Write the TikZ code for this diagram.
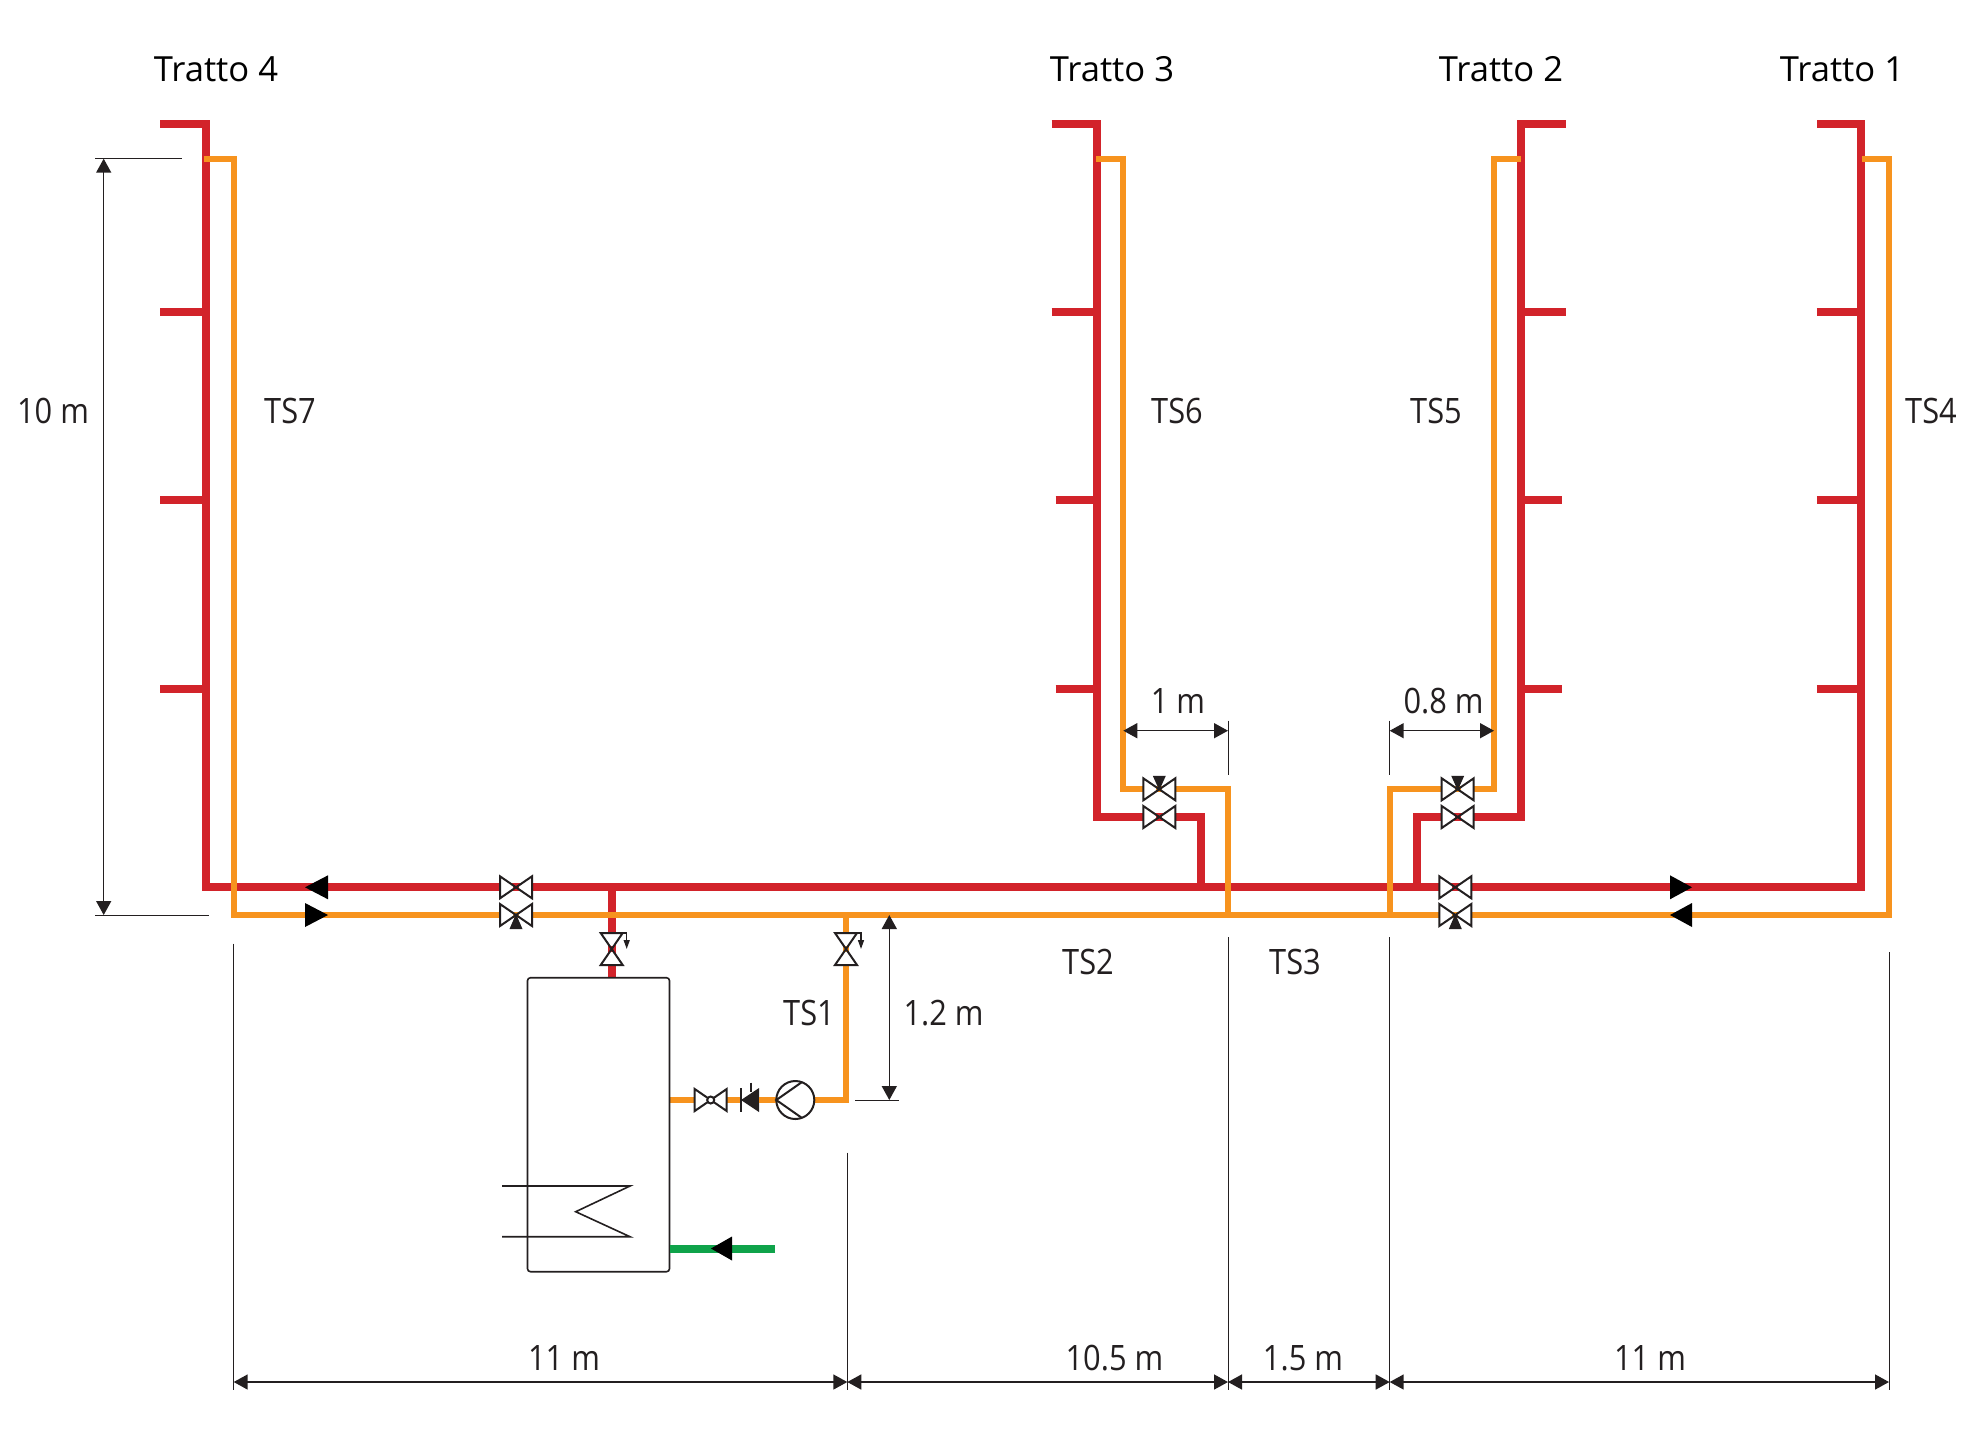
\documentclass[tikz,border=0pt]{standalone}
\usepackage{fontspec}
\setmainfont{Open Sans}
\newfontfamily\condfont[FakeStretch=0.88]{Open Sans}
\usetikzlibrary{arrows.meta}
\definecolor{hotred}{HTML}{D2232A}
\definecolor{circorange}{HTML}{F7931E}
\definecolor{coldgreen}{HTML}{0FA34A}
\definecolor{ink}{HTML}{231F20}
\tikzset{
  hotpipe/.style={draw=hotred,line width=4pt,line join=miter},
  circpipe/.style={draw=circorange,line width=3pt,line join=miter},
  coldpipe/.style={draw=coldgreen,line width=4pt},
  symbolline/.style={draw=ink,line width=1pt,line join=miter},
  thinline/.style={draw=ink,line width=0.5pt},
  dimline/.style={draw=ink,line width=0.75pt,{Triangle[length=7pt,width=7.5pt]}-{Triangle[length=7pt,width=7.5pt]}},
  titlelabel/.style={text=black,inner sep=0pt,font=\fontsize{17.3}{20}\selectfont},
  condlabel/.style={text=ink,inner sep=0pt,font=\condfont\fontsize{17.5}{20}\selectfont},
}
% horizontal valve: #1 centre, #2 colour
\newcommand{\pipevalveH}[2]{%
  \begin{scope}[shift={(#1)}]
    \fill[white] (-16,-11)--(16,11)--(16,-11)--(-16,11)--cycle;
    \fill[#2] (-3,-3) rectangle (3,3);
    \draw[symbolline] (-16,-11)--(16,11)--(16,-11)--(-16,11)--cycle;
  \end{scope}}
% vertical valve with actuator mark
\newcommand{\pipevalveV}[2]{%
  \begin{scope}[shift={(#1)}]
    \fill[white] (-11,-16)--(11,16)--(-11,16)--(11,-16)--cycle;
    \fill[#2] (-3,-3) rectangle (3,3);
    \draw[symbolline] (-11,-16)--(11,16)--(-11,16)--(11,-16)--cycle;
    \draw[draw=ink,line width=0.7pt,-{Triangle[length=4.5pt,width=3pt]}] (0,-16)--(15,-16)--(15,0);
  \end{scope}}
\begin{document}
\begin{tikzpicture}[x=0.5pt,y=-0.5pt]
\useasboundingbox[fill=white] (0,0) rectangle (1970,1441);
% --- red network
\coordinate (rA) at (160,124.3); \coordinate (rB) at (206,124.3);
\coordinate (rC) at (206,887.3); \coordinate (rD) at (1860.7,887.3);
\coordinate (rE) at (1860.7,124.3); \coordinate (rF) at (1816.8,124.3);
\draw[hotpipe] (rA)--(rB)--(rC)--(rD)--(rE)--(rF);
\foreach \yy in {311.6,500,688.5}{
  \draw[hotpipe] (160,\yy)--(206,\yy);
  \draw[hotpipe] (1816.8,\yy)--(1860.7,\yy);
}
\coordinate (rG) at (1051.6,124.3); \coordinate (rH) at (1096.7,124.3);
\coordinate (rI) at (1096.7,817); \coordinate (rJ) at (1201,817); \coordinate (rK) at (1201,887.3);
\draw[hotpipe] (rG)--(rH)--(rI)--(rJ)--(rK);
\draw[hotpipe] (1051.6,311.6)--(1096.7,311.6);
\draw[hotpipe] (1055.5,500)--(1096.7,500);
\draw[hotpipe] (1055.5,688.5)--(1096.7,688.5);
\coordinate (rL) at (1565.5,124.3); \coordinate (rM) at (1521,124.3);
\coordinate (rN) at (1521,817); \coordinate (rO) at (1417,817); \coordinate (rP) at (1417,887.3);
\draw[hotpipe] (rL)--(rM)--(rN)--(rO)--(rP);
\draw[hotpipe] (1521,311.6)--(1565.5,311.6);
\draw[hotpipe] (1521,500)--(1561.7,500);
\draw[hotpipe] (1521,688.5)--(1561.7,688.5);
\coordinate (rQ) at (611.7,887.3); \coordinate (rR) at (611.7,978);
\draw[hotpipe] (rQ)--(rR);
% --- orange network
\coordinate (oA) at (204,158.7); \coordinate (oB) at (233.7,158.7);
\coordinate (oC) at (233.7,915); \coordinate (oD) at (1889,915);
\coordinate (oE) at (1889,158.7); \coordinate (oF) at (1862,158.7);
\draw[circpipe] (oA)--(oB)--(oC)--(oD)--(oE)--(oF);
\coordinate (oG) at (1096,158.7); \coordinate (oH) at (1123.3,158.7);
\coordinate (oI) at (1123.3,789.3); \coordinate (oJ) at (1228,789.3); \coordinate (oK) at (1228,915);
\draw[circpipe] (oG)--(oH)--(oI)--(oJ)--(oK);
\coordinate (oL) at (1521,158.7); \coordinate (oM) at (1494,158.7);
\coordinate (oN) at (1494,789.3); \coordinate (oO) at (1389.7,789.3); \coordinate (oP) at (1389.7,915);
\draw[circpipe] (oL)--(oM)--(oN)--(oO)--(oP);
\coordinate (oQ) at (846,915); \coordinate (oR) at (846,1100); \coordinate (oS) at (670,1100);
\draw[circpipe] (oQ)--(oR)--(oS);
% --- storage tank
\node[draw=ink,line width=0.8pt,rounded corners=1.5pt,fill=white,inner sep=0pt,outer sep=0pt,minimum width=71pt,minimum height=147pt,anchor=north west] (tank) at (527.5,977.7) {};
\coordinate (cA) at (502,1186); \coordinate (cB) at (630,1186); \coordinate (cC) at (575.7,1211.7);
\coordinate (cD) at (630,1236.7); \coordinate (cE) at (502,1236.7);
\draw[draw=ink,line width=0.8pt,line join=miter] (cA)--(cB)--(cC)--(cD)--(cE);
% --- cold feed
\coordinate (gA) at (775,1248.5); \coordinate (gB) at (670,1248.5);
\draw[coldpipe] (gA)--(gB);
\fill[black] (711,1248.5)--(732,1236.5)--(732,1260.5)--cycle;
% --- flow arrows
\fill[black] (305,887.3)--(328,875.3)--(328,899.3)--cycle;
\fill[black] (328,915)--(305,903)--(305,927)--cycle;
\fill[black] (1692,887.3)--(1670,875.3)--(1670,899.3)--cycle;
\fill[black] (1670,915)--(1692,903)--(1692,927)--cycle;
% --- valves
\coordinate (vA) at (516,887.3); \coordinate (vB) at (516,915);
\coordinate (vC) at (1455.3,887.3); \coordinate (vD) at (1455.3,915);
\coordinate (vE) at (1159.3,789.3); \coordinate (vF) at (1159.3,817);
\coordinate (vG) at (1457.7,789.3); \coordinate (vH) at (1457.7,817);
\coordinate (vI) at (611.7,949); \coordinate (vJ) at (846,949);
\pipevalveH{vA}{hotred}
\pipevalveH{vB}{circorange}
\pipevalveH{vC}{hotred}
\pipevalveH{vD}{circorange}
\pipevalveH{vE}{circorange}
\pipevalveH{vF}{hotred}
\pipevalveH{vG}{circorange}
\pipevalveH{vH}{hotred}
\pipevalveV{vI}{hotred}
\pipevalveV{vJ}{circorange}
% actuator wedges
\foreach \cc in {vB,vD}{ \fill[ink] (\cc) ++(0,-1)--++(6.5,15)--++(-13,0)--cycle; }
\foreach \cc in {vE,vG}{ \fill[ink] (\cc) ++(0,1)--++(6.5,-14.5)--++(-13,0)--cycle; }
% --- ball valve, check valve, pump
\coordinate (vK) at (710.7,1100);
\pipevalveH{vK}{circorange}
\draw[symbolline,fill=white] (vK) circle (3.5);
\fill[white] (741,1088) rectangle (759,1112);
\fill[ink] (741,1100)--(759,1088)--(759,1112)--cycle;
\draw[symbolline] (741,1088)--(741,1112);
\draw[symbolline] (751,1082.7)--(751,1092);
\draw[circpipe] (759,1100)--(776,1100);
\node[draw=ink,line width=1pt,fill=white,circle,inner sep=0pt,outer sep=0pt,minimum size=19pt] (pump) at (795.3,1100) {};
\draw[symbolline] (pump.70)--(pump.180)--(pump.-70);
% --- dimensions, extension lines
\coordinate (x10a) at (95,158.7); \coordinate (x10b) at (182,158.7);
\coordinate (x10c) at (95,915); \coordinate (x10d) at (209,915);
\draw[thinline] (x10a)--(x10b); \draw[thinline] (x10c)--(x10d);
\coordinate (d10a) at (103.7,158.7); \coordinate (d10b) at (103.7,915);
\draw[dimline] (d10a)--(d10b);
\coordinate (d12a) at (889.3,915); \coordinate (d12b) at (889.3,1100);
\draw[dimline] (d12a)--(d12b);
\coordinate (x12a) at (855,1100); \coordinate (x12b) at (899,1100);
\draw[thinline] (x12a)--(x12b);
\coordinate (d1a) at (1123.3,730.7); \coordinate (d1b) at (1228,730.7);
\draw[dimline] (d1a)--(d1b);
\coordinate (d08a) at (1389.7,730.7); \coordinate (d08b) at (1494,730.7);
\draw[dimline] (d08a)--(d08b);
\coordinate (x1a) at (1228,720.7); \coordinate (x1b) at (1228,775);
\coordinate (x2a) at (1389.7,720.7); \coordinate (x2b) at (1389.7,775);
\draw[thinline] (x1a)--(x1b); \draw[thinline] (x2a)--(x2b);
\coordinate (b0a) at (233.7,943.6); \coordinate (b0) at (233.7,1390);
\coordinate (b1a) at (847.3,1152.7); \coordinate (b1) at (847.3,1390);
\coordinate (b2a) at (1228,937); \coordinate (b2) at (1228,1390);
\coordinate (b3a) at (1389.7,937); \coordinate (b3) at (1389.7,1390);
\coordinate (b4a) at (1889,952); \coordinate (b4) at (1889,1390);
\draw[thinline] (b0a)--(b0); \draw[thinline] (b1a)--(b1); \draw[thinline] (b2a)--(b2);
\draw[thinline] (b3a)--(b3); \draw[thinline] (b4a)--(b4);
\coordinate (e0) at (233.7,1382); \coordinate (e1) at (847.3,1382); \coordinate (e2) at (1228,1382);
\coordinate (e3) at (1389.7,1382); \coordinate (e4) at (1889,1382);
\draw[dimline] (e0)--(e1); \draw[dimline] (e1)--(e2); \draw[dimline] (e2)--(e3); \draw[dimline] (e3)--(e4);
% --- labels
\node[titlelabel] (t4) at (216,69) {Tratto 4};
\node[titlelabel] (t3) at (1112,69) {Tratto 3};
\node[titlelabel] (t2) at (1501,69) {Tratto 2};
\node[titlelabel] (t1) at (1842,69) {Tratto 1};
\node[condlabel] (ts7) at (290,411) {TS7};
\node[condlabel] (ts6) at (1177,411) {TS6};
\node[condlabel] (ts5) at (1436,411) {TS5};
\node[condlabel] (ts4) at (1931,411) {TS4};
\node[condlabel] (ts2) at (1088,962) {TS2};
\node[condlabel] (ts3) at (1295,962) {TS3};
\node[condlabel] (ts1) at (809,1013) {TS1};
\node[condlabel] (l12) at (943.6,1013) {1.2 m};
\node[condlabel] (l10) at (53,411) {10 m};
\node[condlabel] (l1) at (1178,701) {1 m};
\node[condlabel] (l08) at (1443.6,701) {0.8 m};
\node[condlabel] (b11a) at (564,1358) {11 m};
\node[condlabel] (b105) at (1114.4,1358) {10.5 m};
\node[condlabel] (b15) at (1303,1358) {1.5 m};
\node[condlabel] (b11b) at (1650,1358) {11 m};
\end{tikzpicture}
\end{document}
